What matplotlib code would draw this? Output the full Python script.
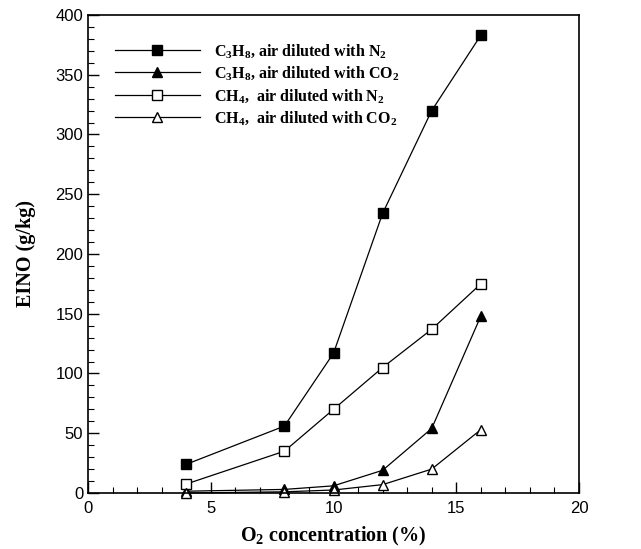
import matplotlib
matplotlib.use("Agg")
import matplotlib.pyplot as plt
from matplotlib.ticker import MultipleLocator

plt.rcParams["mathtext.fontset"] = "custom"
plt.rcParams["mathtext.rm"] = "Liberation Serif:bold"
plt.rcParams["mathtext.bf"] = "Liberation Serif:bold"
plt.rcParams["mathtext.default"] = "rm"

o2 = [4, 8, 10, 12, 14, 16]
c3h8_n2 = [24, 56, 117, 234, 320, 383]
c3h8_co2 = [1.5, 3, 6, 19, 54, 148]
ch4_n2 = [7.5, 35, 70, 105, 137, 175]
ch4_co2 = [0, 1, 2.5, 7, 20, 53]

labels = [
    r"C$_3$H$_8$, air diluted with N$_2$",
    r"C$_3$H$_8$, air diluted with CO$_2$",
    r"CH$_4$,  air diluted with N$_2$",
    r"CH$_4$,  air diluted with CO$_2$",
]

fig = plt.figure(figsize=(6.41, 5.49), dpi=100)
ax = fig.add_axes([0.1373, 0.102, 0.766, 0.8707])

kw = dict(color="black", lw=0.9, markersize=7, markeredgewidth=1.0, clip_on=False)
ax.plot(o2, c3h8_n2, marker="s", markerfacecolor="black", label=labels[0], **kw)
ax.plot(o2, c3h8_co2, marker="^", markerfacecolor="black", label=labels[1], **kw)
ax.plot(o2, ch4_n2, marker="s", markerfacecolor="white", label=labels[2], **kw)
ax.plot(o2, ch4_co2, marker="^", markerfacecolor="white", label=labels[3], **kw)

ax.set_xlim(0, 20)
ax.set_ylim(0, 400)
ax.xaxis.set_major_locator(MultipleLocator(5))
ax.xaxis.set_minor_locator(MultipleLocator(1))
ax.yaxis.set_major_locator(MultipleLocator(50))
ax.yaxis.set_minor_locator(MultipleLocator(10))
ax.tick_params(which="both", direction="in", top=False, right=False, labelsize=12)
ax.tick_params(axis="x", pad=6)
ax.tick_params(which="major", length=8, width=1)
ax.tick_params(which="minor", length=4, width=0.8)
for lab in ax.get_xticklabels() + ax.get_yticklabels():
    lab.set_family("Liberation Sans")
for s in ax.spines.values():
    s.set_linewidth(1.2)

ax.set_xlabel(r"O$_2$ concentration (%)", family="Liberation Serif", weight="bold",
              fontsize=14.5, labelpad=6)
ax.set_ylabel("EINO (g/kg)", family="Liberation Serif", weight="bold",
              fontsize=14.5, labelpad=14)

leg = ax.legend(loc="upper left", bbox_to_anchor=(0.055, 0.944), frameon=False,
                borderpad=0, borderaxespad=0, handlelength=5.3, handletextpad=0.9,
                labelspacing=0.3, markerscale=0.95,
                prop={"family": "Liberation Serif", "weight": "bold", "size": 11.5})

fig.savefig("out.png", dpi=100)
